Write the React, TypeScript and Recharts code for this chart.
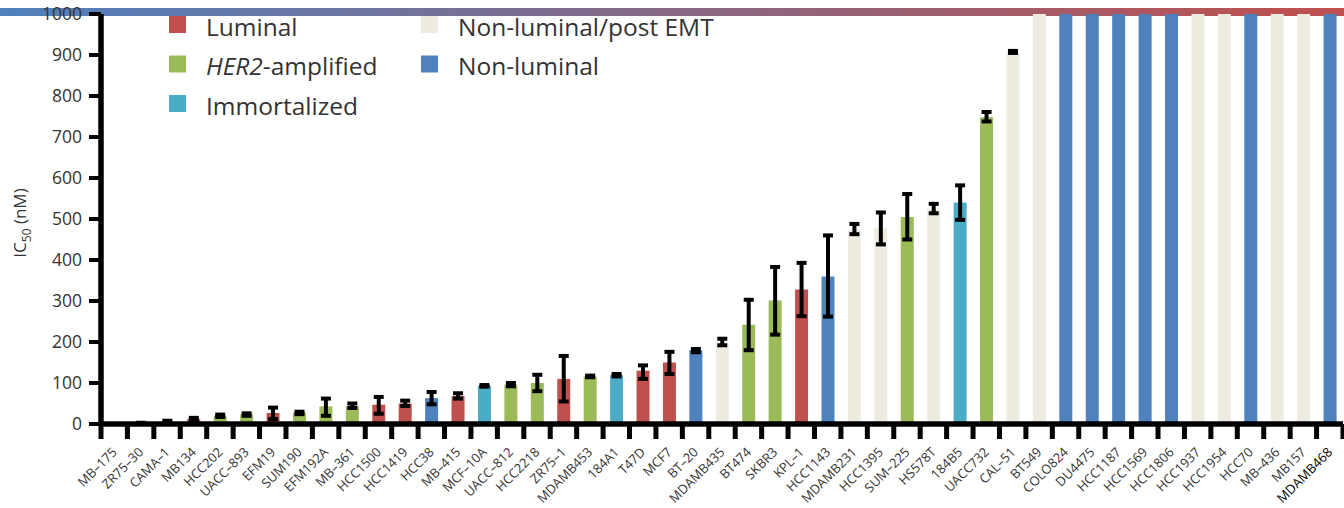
import React from 'react';
import { BarChart, Bar, XAxis, YAxis, Cell, ErrorBar } from 'recharts';

const cellLines = [
  'MB–175', 'ZR75–30', 'CAMA–1', 'MB134', 'HCC202', 'UACC–893', 'EFM19', 'SUM190', 'EFM192A', 'MB–361',
  'HCC1500', 'HCC1419', 'HCC38', 'MB–415', 'MCF–10A', 'UACC–812', 'HCC2218', 'ZR75–1', 'MDAMB453', '184A1',
  'T47D', 'MCF7', 'BT–20', 'MDAMB435', 'BT474', 'SKBR3', 'KPL–1', 'HCC1143', 'MDAMB231', 'HCC1395',
  'SUM–225', 'HS578T', '184B5', 'UACC732', 'CAL–51', 'BT549', 'COLO824', 'DU4475', 'HCC1187', 'HCC1569',
  'HCC1806', 'HCC1937', 'HCC1954', 'HCC70', 'MB–436', 'MB157', 'MDAMB468',
];

const ic50 = [
  0.5, 2, 5, 12, 20, 23, 27, 27, 43, 44,
  47, 50, 63, 68, 93, 96, 100, 110, 116, 119,
  130, 150, 180, 198, 242, 301, 328, 360, 474, 478,
  505, 525, 540, 748, 907, 1000, 1000, 1000, 1000, 1000,
  1000, 1000, 1000, 1000, 1000, 1000, 1000,
];

const errLow = [
  null, 1, 3, 9, 17, 20, 12, 24, 20, 39,
  25, 44, 48, 62, 91, 92, 80, 55, 114, 116,
  110, 122, 175, 192, 180, 218, 263, 262, 463, 438,
  450, 514, 498, 738, 905, null, null, null, null, null,
  null, null, null, null, null, null, null,
];

const errHigh = [
  null, 3, 8, 15, 23, 26, 40, 30, 62, 50,
  66, 57, 78, 75, 95, 100, 120, 166, 118, 122,
  143, 176, 183, 208, 303, 383, 393, 460, 488, 516,
  561, 537, 582, 761, 910, null, null, null, null, null,
  null, null, null, null, null, null, null,
];

const subtypes = [
  'L', 'L', 'L', 'L', 'H', 'H', 'L', 'H', 'H', 'H',
  'L', 'L', 'N', 'L', 'I', 'H', 'H', 'L', 'H', 'I',
  'L', 'L', 'N', 'P', 'H', 'H', 'L', 'N', 'P', 'P',
  'H', 'P', 'I', 'H', 'P', 'P', 'N', 'N', 'N', 'N',
  'N', 'P', 'P', 'N', 'P', 'P', 'N',
];

const yTicks = [0, 100, 200, 300, 400, 500, 600, 700, 800, 900, 1000];

const COLORS: Record<string, string> = {
  L: '#C0504D',
  H: '#9BBB59',
  I: '#4BACC6',
  P: '#EEECE1',
  N: '#4F81BD',
};

const legendItems = [
  { key: 'L', label: 'Luminal', col: 0, row: 0 },
  { key: 'H', label: 'HER2-amplified', col: 0, row: 1 },
  { key: 'I', label: 'Immortalized', col: 0, row: 2 },
  { key: 'P', label: 'Non-luminal/post EMT', col: 1, row: 0 },
  { key: 'N', label: 'Non-luminal', col: 1, row: 1 },
];

const data = cellLines.map((name, i) => ({
  name,
  ic50: ic50[i],
  subtype: subtypes[i],
  err: errLow[i] == null ? null : [ic50[i] - (errLow[i] as number), (errHigh[i] as number) - ic50[i]],
}));

const W = 1344;
const H = 508;
const M = { top: 14, right: 1, bottom: 0, left: 0 };
const Y_W = 101;
const X_H = 84;
const PLOT_W = W - M.left - M.right - Y_W;
const FONT = '"Open Sans", "Noto Sans", sans-serif';

const XTick = (props: any) => {
  const x = Number(props.x);
  const y = Number(props.y);
  const { payload, index } = props;
  const band = PLOT_W / cellLines.length;
  const isLast = index === cellLines.length - 1;
  return (
    <g>
      <rect x={x - band / 2 - 2.5} y={y} width={5} height={15} fill="#000" />
      {isLast && <rect x={x + band / 2 - 2.5} y={y} width={5} height={15} fill="#000" />}
      <text
        transform={`translate(${x + 3.5},${y + 29}) rotate(-45)`}
        textAnchor="end"
        fontSize={13}
        fill={isLast ? '#000' : '#333'}
        fontFamily={FONT}
      >
        {payload.value}
      </text>
    </g>
  );
};

const YLabel = (props: any) => {
  const vb = props.viewBox || { x: 0, y: 0, width: 0, height: 0 };
  const cx = vb.x + 26;
  const cy = vb.y + vb.height / 2 + 4;
  return (
    <text
      x={cx}
      y={cy}
      transform={`rotate(-90, ${cx}, ${cy})`}
      textAnchor="middle"
      fontSize={17}
      fill="#333"
      fontFamily={FONT}
    >
      IC
      <tspan fontSize={12} dy={5}>50</tspan>
      <tspan dy={-5}> (nM)</tspan>
    </text>
  );
};

const Legend = () => {
  const colX = [169, 421];
  const rowSq = [16, 55.5, 95];
  const rowBase = [36, 75, 115];
  return (
    <svg width={W} height={130} style={{ position: 'absolute', left: 0, top: 0, pointerEvents: 'none' }}>
      {legendItems.map((it) => (
        <g key={it.key}>
          <rect x={colX[it.col]} y={rowSq[it.row]} width={17} height={17} fill={COLORS[it.key]} />
          <text x={colX[it.col] + 37} y={rowBase[it.row]} fontSize={24.5} fill="#333" fontFamily={FONT}>
            {it.key === 'H' ? (
              <>
                <tspan fontStyle="italic">HER2</tspan>-amplified
              </>
            ) : (
              it.label
            )}
          </text>
        </g>
      ))}
    </svg>
  );
};

export default function App() {
  return (
    <div style={{ position: 'absolute', left: 0, top: 0, width: W, height: H, fontFamily: FONT, background: '#fff', overflow: 'hidden' }}>
      <div
        style={{
          position: 'absolute',
          left: 0,
          top: 8,
          width: W,
          height: 8,
          background: 'linear-gradient(to right, #4F81BD, #C0504D)',
        }}
      />
      <div style={{ position: 'absolute', left: 0, top: 0 }}>
        <BarChart width={W} height={H} data={data} margin={M} barSize={13}>
          <XAxis
            dataKey="name"
            interval={0}
            height={X_H}
            tickLine={false}
            tickSize={0}
            tickMargin={0}
            axisLine={{ stroke: '#000', strokeWidth: 5.5 }}
            tick={<XTick />}
          />
          <YAxis
            type="number"
            domain={[0, 1000]}
            ticks={yTicks}
            interval={0}
            width={Y_W}
            tickSize={12}
            tickMargin={7}
            tickLine={{ stroke: '#000', strokeWidth: 4 }}
            axisLine={{ stroke: '#000', strokeWidth: 5.5 }}
            tick={{ fontSize: 17.5, fill: '#333', fontFamily: FONT }}
            label={<YLabel />}
          />
          <Bar dataKey="ic50" isAnimationActive={false}>
            {data.map((d, i) => (
              <Cell key={i} fill={COLORS[d.subtype]} />
            ))}
            <ErrorBar dataKey="err" width={5} stroke="#000" strokeWidth={4} direction="y" />
          </Bar>
        </BarChart>
      </div>
      <Legend />
    </div>
  );
}
